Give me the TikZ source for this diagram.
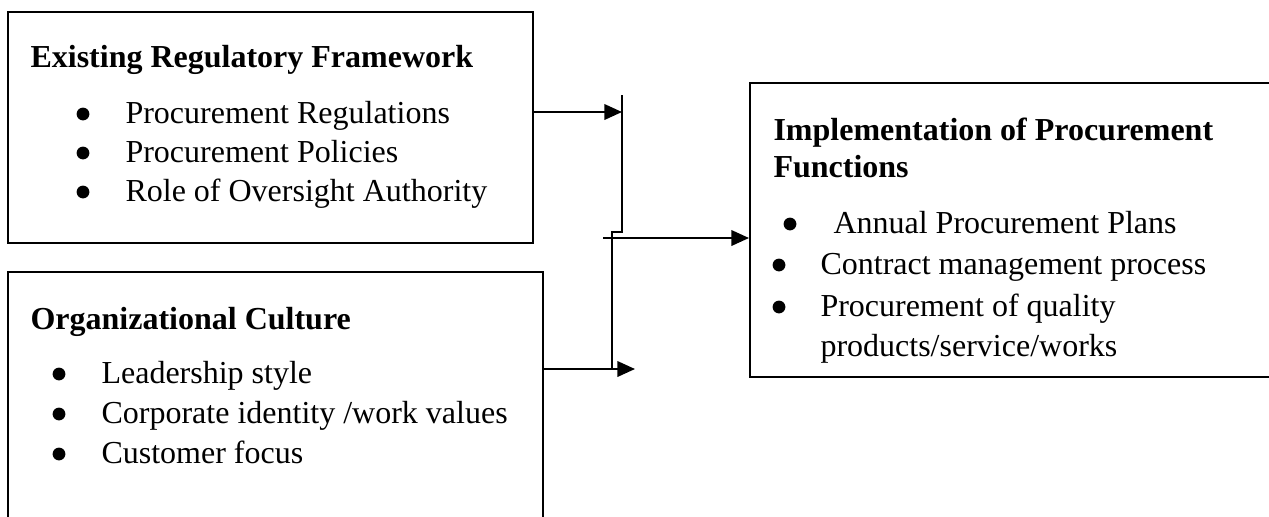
\documentclass[tikz,border=0pt]{standalone}
\usepackage{fontspec}
\setmainfont{Liberation Serif}
\usetikzlibrary{arrows.meta,positioning,fit}
\tikzset{
  fwbox/.style={draw=black, line width=0.75pt, inner sep=0pt},
  fwhead/.style={anchor=base west, inner sep=0pt, font=\fontsize{12}{14}\selectfont\bfseries},
  fwitem/.style={anchor=base west, inner sep=0pt, font=\fontsize{12}{14}\selectfont},
  fwdot/.style={circle, fill=black, inner sep=0pt, minimum size=4.8pt},
  fwline/.style={draw=black, line width=0.8pt},
  fwarrow/.style={fwline, -{Triangle[length=6.6pt,width=5.8pt]}},
}

\begin{document}
\begin{tikzpicture}[x=0.375pt,y=-0.375pt]
  \useasboundingbox (0,0) rectangle (1269,516);
  \clip (0,0) rectangle (1269,516);

  % frames
  \coordinate (regNW) at (8,12);    \coordinate (regSE) at (533,243);
  \coordinate (orgNW) at (8,272);   \coordinate (orgSE) at (543,580);
  \coordinate (implNW) at (750,83); \coordinate (implSE) at (1300,377);
  \node[fwbox, fit=(regNW)(regSE)] (reg) {};
  \node[fwbox, fit=(orgNW)(orgSE)] (org) {};
  \node[fwbox, fit=(implNW)(implSE)] (impl) {};

  % regulatory framework
  \node[fwhead] (regT) at (30,67) {Existing Regulatory Framework};
  \node[fwdot] (regd1) at (83,114) {};
  \node[fwdot] (regd2) at (83,153) {};
  \node[fwdot] (regd3) at (83,192) {};
  \node[fwitem] (reg1) at (125,123) {Procurement Regulations};
  \node[fwitem] (reg2) at (125,162) {Procurement Policies};
  \node[fwitem] (reg3) at (125,201) {Role of Oversight Authority};

  % culture
  \node[fwhead] (orgT) at (30,329) {Organizational Culture};
  \node[fwdot] (orgd1) at (59,374) {};
  \node[fwdot] (orgd2) at (59,414) {};
  \node[fwdot] (orgd3) at (59,454) {};
  \node[fwitem] (org1) at (101,383) {Leadership style};
  \node[fwitem] (org2) at (101,423) {Corporate identity /work values};
  \node[fwitem] (org3) at (101,463) {Customer focus};

  % outcome
  \node[fwhead] (implT) at (773,140) {Implementation of Procurement};
  \node[fwhead] (implT2) at (773,177) {Functions};
  \node[fwdot] (impld1) at (790,224) {};
  \node[fwdot] (impld2) at (779,265) {};
  \node[fwdot] (impld3) at (779,307) {};
  \node[fwitem] (impl1) at (833,233) {Annual Procurement Plans};
  \node[fwitem] (impl2) at (820,274) {Contract management process};
  \node[fwitem] (impl3) at (820,316) {Procurement of quality};
  \node[fwitem] (impl3b) at (820,356) {products/service/works};

  % joining lines
  \coordinate (tipa) at (622,112);
  \coordinate (tipb) at (635,369);
  \coordinate (top) at (622,95);
  \coordinate (knee) at (622,232);
  \coordinate (kneeb) at (612,232);
  \coordinate (foot) at (612,368);
  \coordinate (hub) at (603,238);
  \draw[fwarrow] (reg.east |- tipa) -- (tipa);
  \draw[fwarrow] (org.east |- tipb) -- (tipb);
  \draw[fwline] (top) -- (knee) -- (kneeb) -- (foot);
  \draw[fwarrow] (hub) -- (impl.west |- hub);
\end{tikzpicture}
\end{document}
